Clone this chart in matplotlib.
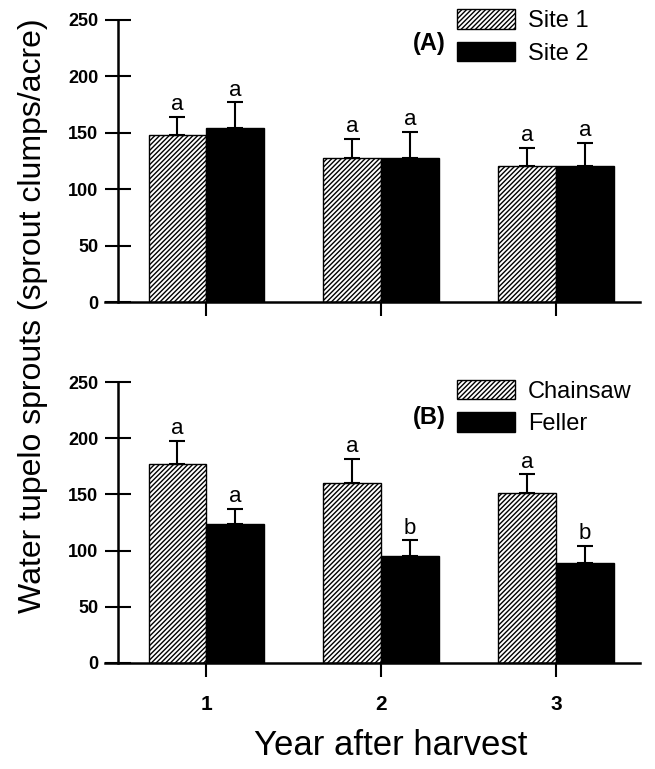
import matplotlib
matplotlib.use("Agg")
import matplotlib.pyplot as plt
import numpy as np

# data
years = [1, 2, 3]
year_labels = ["1", "2", "3"]

site1 = [148, 128, 121]
site1_err = [16, 17, 16]
site2 = [154, 128, 121]
site2_err = [23, 23, 20]
site1_letters = ["a", "a", "a"]
site2_letters = ["a", "a", "a"]

chainsaw = [177, 160, 151]
chainsaw_err = [21, 22, 17]
feller = [124, 95, 89]
feller_err = [13, 14, 15]
chainsaw_letters = ["a", "a", "a"]
feller_letters = ["a", "b", "b"]

plt.rcParams['font.family'] = ['Liberation Sans', 'DejaVu Sans']
plt.rcParams['hatch.linewidth'] = 1.0

fig = plt.figure(figsize=(6.55, 7.69), dpi=100)
ax1 = fig.add_axes([0.160, 0.607, 0.817, 0.367])
ax2 = fig.add_axes([0.160, 0.138, 0.817, 0.365])

w = 0.33
x = np.array(years, dtype=float)


def panel(ax, v1, e1, l1, v2, e2, l2, names, tag, leg_y, tag_y):
    ax.bar(x - w / 2, v1, w, color="white", edgecolor="black",
           hatch="///////", linewidth=1.0, label=names[0])
    ax.bar(x + w / 2, v2, w, color="black", edgecolor="black",
           linewidth=1.0, label=names[1])
    ax.errorbar(x - w / 2, v1, yerr=[np.zeros(3), e1], fmt="none",
                ecolor="black", elinewidth=1.5, capsize=6, capthick=1.5)
    ax.errorbar(x + w / 2, v2, yerr=[np.zeros(3), e2], fmt="none",
                ecolor="black", elinewidth=1.5, capsize=6, capthick=1.5)
    for i in range(3):
        ax.text(x[i] - w / 2, v1[i] + e1[i] + 1.5, l1[i], ha="center",
                va="bottom", fontsize=16)
        ax.text(x[i] + w / 2, v2[i] + e2[i] + 1.5, l2[i], ha="center",
                va="bottom", fontsize=16)
    ax.set_xlim(0.42, 3.48)
    ax.set_ylim(0, 250)
    ax.set_yticks([0, 50, 100, 150, 200, 250])
    ax.set_xticks(years)
    for s in ["top", "right"]:
        ax.spines[s].set_visible(False)
    ax.spines["left"].set_position(("data", 0.497))
    ax.spines["left"].set_linewidth(1.8)
    ax.spines["bottom"].set_linewidth(1.8)
    ax.tick_params(axis="y", direction="inout", length=19, width=1.5,
                   labelsize=13, pad=5)
    ax.tick_params(axis="x", direction="out", length=10, width=1.5,
                   labelsize=15, pad=13)
    for t in ax.get_yticklabels() + ax.get_xticklabels():
        t.set_fontweight("bold")
    ax.legend(loc="upper left", bbox_to_anchor=(0.698, leg_y),
              bbox_transform=fig.transFigure, frameon=False, fontsize=17,
              handlelength=2.45, handleheight=0.9, handletextpad=0.55,
              labelspacing=0.4, borderpad=0, borderaxespad=0)
    fig.text(0.655, tag_y, tag, ha="center", va="center", fontsize=17,
             fontweight="bold")


panel(ax1, site1, site1_err, site1_letters, site2, site2_err, site2_letters,
      ["Site 1", "Site 2"], "(A)", 0.988, 0.944)
panel(ax2, chainsaw, chainsaw_err, chainsaw_letters, feller, feller_err,
      feller_letters, ["Chainsaw", "Feller"], "(B)", 0.506, 0.457)
ax1.set_xticklabels([])
ax2.set_xticklabels(year_labels)

fig.text(0.050, 0.589, "Water tupelo sprouts (sprout clumps/acre)",
         rotation=90, ha="center", va="center", fontsize=23)
fig.text(0.597, 0.030, "Year after harvest", ha="center", va="center",
         fontsize=25)

fig.savefig("out.png", dpi=100)
